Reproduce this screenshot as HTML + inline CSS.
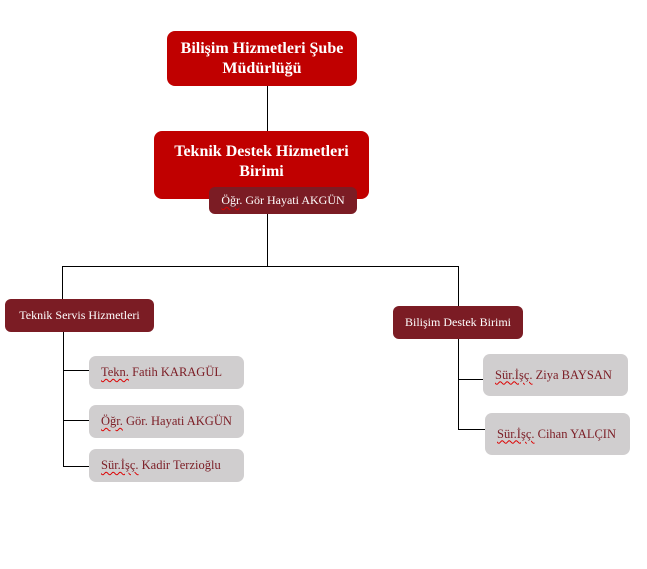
<!DOCTYPE html>
<html><head><meta charset="utf-8"><style>
html,body{margin:0;padding:0;background:#fff;width:647px;height:569px;overflow:hidden;position:relative;font-family:"Liberation Serif",serif}
.b{position:absolute;box-sizing:border-box;display:flex;align-items:center;justify-content:center;text-align:center;border-radius:8px}
.r{background:#c00000;color:#fff;font-weight:bold;font-size:15px;line-height:20px}
.d{background:#7b1c24;color:#fff;font-size:12px;border-radius:6px}
.g{background:#d0cecf;color:#7b1c24;font-size:12.5px;border-radius:7px;justify-content:flex-start;padding-left:12px}
.l{position:absolute;background:#000}
u{text-decoration:underline wavy #d00;text-decoration-thickness:1px;text-underline-offset:2px}
</style></head><body>
<div class="l" style="left:267px;top:86px;width:1px;height:46px"></div>
<div class="l" style="left:267px;top:214px;width:1px;height:53px"></div>
<div class="l" style="left:62px;top:266px;width:397px;height:1px"></div>
<div class="l" style="left:62px;top:266px;width:1px;height:34px"></div>
<div class="l" style="left:458px;top:266px;width:1px;height:41px"></div>
<div class="l" style="left:63px;top:332px;width:1px;height:135px"></div>
<div class="l" style="left:63px;top:370px;width:26px;height:1px"></div>
<div class="l" style="left:63px;top:420px;width:26px;height:1px"></div>
<div class="l" style="left:63px;top:466px;width:26px;height:1px"></div>
<div class="l" style="left:458px;top:339px;width:1px;height:91px"></div>
<div class="l" style="left:458px;top:379px;width:25px;height:1px"></div>
<div class="l" style="left:458px;top:429px;width:27px;height:1px"></div>

<div class="b r" style="left:167px;top:31px;width:190px;height:55px;font-size:16px">Bilişim Hizmetleri Şube<br>Müdürlüğü</div>
<div class="b r" style="left:154px;top:131px;width:215px;height:68px;font-size:16px;padding-bottom:6px">Teknik Destek Hizmetleri<br>Birimi</div>
<div class="b d" style="left:209px;top:187px;width:148px;height:27px"><span><u>Öğr</u>. Gör Hayati AKGÜN</span></div>

<div class="b d" style="left:5px;top:299px;width:149px;height:33px">Teknik Servis Hizmetleri</div>
<div class="b g" style="left:89px;top:356px;width:155px;height:33px"><span><u>Tekn.</u> Fatih KARAGÜL</span></div>
<div class="b g" style="left:89px;top:405px;width:155px;height:33px"><span><u>Öğr.</u> Gör. Hayati AKGÜN</span></div>
<div class="b g" style="left:89px;top:449px;width:155px;height:33px"><span><u>Sür.İşç.</u> Kadir Terzioğlu</span></div>

<div class="b d" style="left:393px;top:306px;width:130px;height:33px">Bilişim Destek Birimi</div>
<div class="b g" style="left:483px;top:354px;width:145px;height:42px"><span><u>Sür.İşç.</u> Ziya BAYSAN</span></div>
<div class="b g" style="left:485px;top:413px;width:145px;height:42px"><span><u>Sür.İşç.</u> Cihan YALÇIN</span></div>
</body></html>
